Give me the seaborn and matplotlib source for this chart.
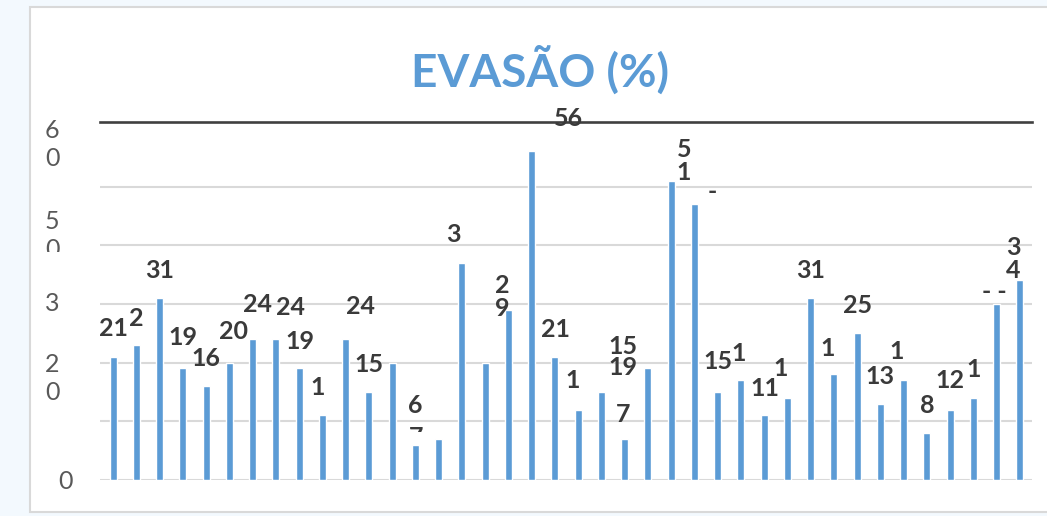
import matplotlib
matplotlib.use('Agg')
import matplotlib.pyplot as plt
import seaborn as sns
import pandas as pd
from matplotlib.patches import Rectangle
from matplotlib.transforms import Bbox

sns.set_style('white')
plt.rcParams['font.family'] = ['Lato', 'DejaVu Sans']

# values (40 bars, no visible category names)
cursos = [str(i) for i in range(1, 41)]
evasao = [21, 23, 31, 19, 16, 20, 24, 24, 19, 11,
          24, 15, 20, 6, 7, 37, 20, 29, 56, 21,
          12, 15, 7, 19, 51, 47, 15, 17, 11, 14,
          31, 18, 25, 13, 17, 8, 12, 14, 30, 34]
# data labels as they appear (wrapped / cut in the original)
rotulos = ['21', '2', '31', '19', '16', '20', '24', '24', '19', '1',
           '24', '15', '', '6', '7', '3', '', '2\n9', '56', '21',
           '1', '15', '7', '19', '5\n1', '-', '15', '1', '11', '1',
           '31', '1', '25', '13', '1', '8', '12', '1', '- -', '3\n4']
# label offsets from the bar top, in pixels
rot_dx = [0, 0, 0, 0, 0, 4, 5, 15, 1, -5,
          15, 0, 0, 0, -22, -8, 0, -6, 37, 1,
          -5, 22, -1, -25, 13, 18, 0, -2, 1, -7,
          0, -6, 0, 0, -7, 0, 0, 0, -2, -7]
rot_dy = [28, 27, 28, 31, 28, 31, 35, 32, 27, 28,
          33, 27, 0, 39, 1, 28, 0, 13, 33, 27,
          29, 45, 24, 1, 20, 13, 30, 27, 27, 29,
          28, 26, 28, 27, 29, 28, 29, 28, 12, 21]

# y axis labels as shown (wrapped), with where they sit
ytexto = ['6\n0', '5\n0', '3', '2\n0', '0']
ypos = [57.2, 41.7, 30, 17.3, -0.3]
yx = [-0.0515, -0.0515, -0.0515, -0.0515, -0.0365]

df = pd.DataFrame({'curso': cursos, 'evasao': evasao})

azul = '#5B9BD5'
fig = plt.figure(figsize=(10.47, 5.16), dpi=100, facecolor='#F3F9FE')
fig.patches.append(Rectangle((30 / 1047, 4 / 516), 1.0, 505 / 516, transform=fig.transFigure,
                             facecolor='white', edgecolor='#D9D9D9', lw=1.5, zorder=-5))

ax = fig.add_axes([100 / 1047, 36 / 516, 932 / 1047, 358 / 516])
ax.set_zorder(2)
ax.patch.set_alpha(0)
sns.barplot(data=df, x='curso', y='evasao', color=azul, width=0.3, saturation=1, ax=ax, zorder=3)

ax.set_ylim(0, 61)
ax.set_xlim(-0.56, 39.52)
ax.set_yticks([0, 10, 20, 30, 40, 50])
ax.set_yticklabels([])
ax.set_xticks([])
ax.tick_params(length=0)
ax.yaxis.grid(True, color='#D9D9D9', lw=1.5)
ax.set_axisbelow(True)
ax.set_xlabel('')
ax.set_ylabel('')
for s in ['left', 'right', 'bottom']:
    ax.spines[s].set_visible(False)
ax.spines['top'].set_color('#404040')
ax.spines['top'].set_linewidth(1.9)

for i, (v, t) in enumerate(zip(evasao, rotulos)):
    if t == '':
        continue
    a = ax.annotate(t, xy=(i, v), xytext=(rot_dx[i], rot_dy[i]), textcoords='offset pixels',
                    ha='center', va='center', fontsize=18, fontweight='bold', color='#3A3A3A',
                    linespacing=1.0, annotation_clip=False, zorder=5)
    if i == 14:
        # only the top of this label shows in the original
        a.set_clip_on(True)
        a.set_clip_box(Bbox.from_extents(380, 84, 460, 120))

for t, y, x in zip(ytexto, ypos, yx):
    txt = ax.text(x, y, t, transform=ax.get_yaxis_transform(), ha='center', va='center',
                  fontsize=18, color='#595959', linespacing=1.25)
    if t == '5\n0':
        txt.set_clip_on(True)
        txt.set_clip_box(Bbox.from_extents(0, 264, 100, 516))

fig.text(0.516, (516 - 87) / 516, 'EVASÃO (%)', ha='center', va='baseline',
         fontsize=33, fontweight='bold', color=azul)

plt.savefig('out.png', dpi=100, facecolor=fig.get_facecolor())
